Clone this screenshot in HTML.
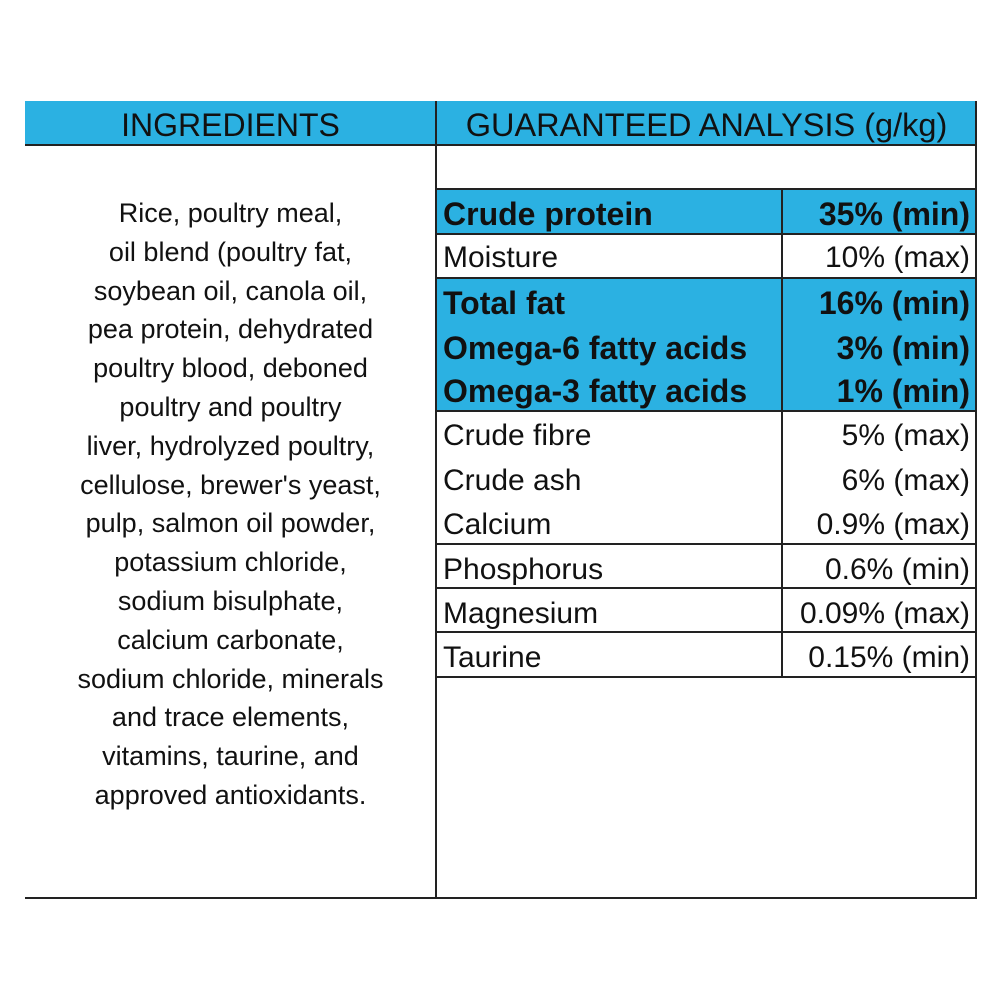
<!DOCTYPE html>
<html><head><style>
body{margin:0;width:1000px;height:1000px;background:#fff;position:relative;font-family:"Liberation Sans","DejaVu Sans",sans-serif;color:#111;overflow:hidden}
.a{position:absolute}
.blue{background:#2bb1e2}
.hl{position:absolute;height:2px;background:#222}
.vl{position:absolute;width:2px;background:#222}
.lab{position:absolute;left:443px;font-size:30px;line-height:46px;white-space:nowrap}
.val{position:absolute;right:30px;font-size:30px;line-height:46px;white-space:nowrap;text-align:right}
.b{font-weight:bold;font-size:32px}
#ing{position:absolute;left:25px;width:411px;top:194px;text-align:center;font-size:27px;line-height:38.8px}
</style></head><body>
<div class="a blue" style="left:25px;top:101px;width:951px;height:44px"></div>
<div class="a" style="left:25px;width:411px;top:101px;text-align:center;font-size:32px;line-height:48px">INGREDIENTS</div>
<div class="a" style="left:437px;width:539px;top:101px;text-align:center;font-size:32.5px;line-height:48px">GUARANTEED ANALYSIS (g/kg)</div>
<div class="a blue" style="left:437px;top:189px;width:539px;height:45px"></div>
<div class="a blue" style="left:437px;top:278px;width:539px;height:132px"></div>
<div class="hl" style="left:25px;width:952px;top:144px"></div>
<div class="hl" style="left:437px;width:540px;top:188px"></div>
<div class="hl" style="left:437px;width:540px;top:233px"></div>
<div class="hl" style="left:437px;width:540px;top:277px"></div>
<div class="hl" style="left:437px;width:540px;top:410px"></div>
<div class="hl" style="left:437px;width:540px;top:543px"></div>
<div class="hl" style="left:437px;width:540px;top:587px"></div>
<div class="hl" style="left:437px;width:540px;top:631px"></div>
<div class="hl" style="left:437px;width:540px;top:676px"></div>
<div class="hl" style="left:25px;width:952px;top:897px"></div>
<div class="vl" style="left:435px;top:101px;height:798px"></div>
<div class="vl" style="left:975px;top:101px;height:798px"></div>
<div class="vl" style="left:781px;top:188px;height:490px"></div>
<div class="lab b" style="top:191px">Crude protein</div><div class="val b" style="top:191px">35% (min)</div>
<div class="lab" style="top:235px">Moisture</div><div class="val" style="top:235px">10% (max)</div>
<div class="lab b" style="top:280px">Total fat</div><div class="val b" style="top:280px">16% (min)</div>
<div class="lab b" style="top:325px">Omega-6 fatty acids</div><div class="val b" style="top:325px">3% (min)</div>
<div class="lab b" style="top:368px">Omega-3 fatty acids</div><div class="val b" style="top:368px">1% (min)</div>
<div class="lab" style="top:413px">Crude fibre</div><div class="val" style="top:413px">5% (max)</div>
<div class="lab" style="top:458px">Crude ash</div><div class="val" style="top:458px">6% (max)</div>
<div class="lab" style="top:502px">Calcium</div><div class="val" style="top:502px">0.9% (max)</div>
<div class="lab" style="top:547px">Phosphorus</div><div class="val" style="top:547px">0.6% (min)</div>
<div class="lab" style="top:591px">Magnesium</div><div class="val" style="top:591px">0.09% (max)</div>
<div class="lab" style="top:635px">Taurine</div><div class="val" style="top:635px">0.15% (min)</div>
<div id="ing">Rice, poultry meal,<br>oil blend (poultry fat,<br>soybean oil, canola oil,<br>pea protein, dehydrated<br>poultry blood, deboned<br>poultry and poultry<br>liver, hydrolyzed poultry,<br>cellulose, brewer's yeast,<br>pulp, salmon oil powder,<br>potassium chloride,<br>sodium bisulphate,<br>calcium carbonate,<br>sodium chloride, minerals<br>and trace elements,<br>vitamins, taurine, and<br>approved antioxidants.</div>
</body></html>
